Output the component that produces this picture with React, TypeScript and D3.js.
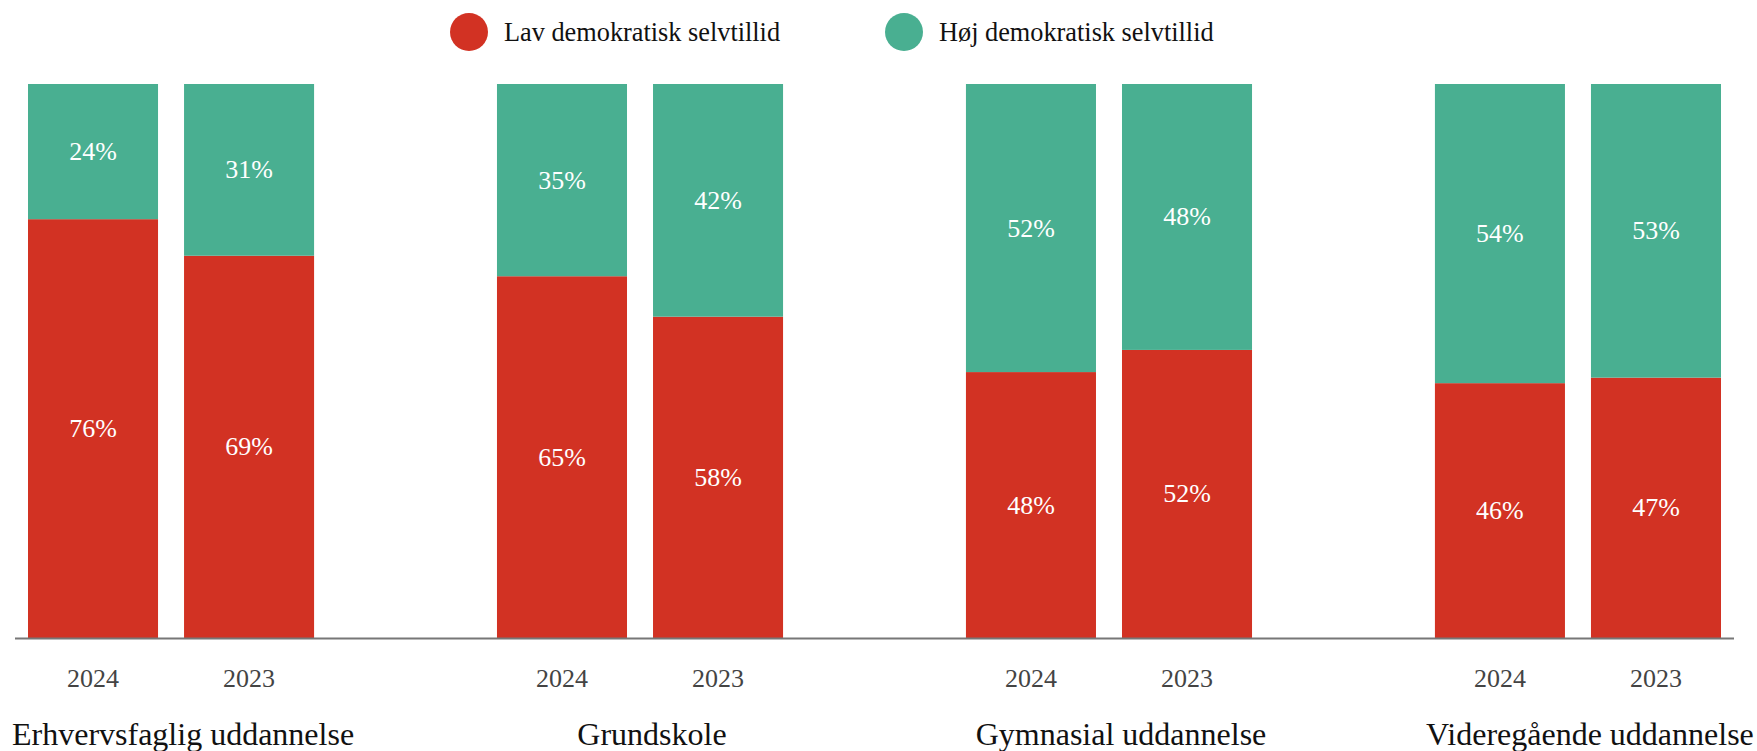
import React from "react";
import * as d3 from "d3";

const categories = ["Erhvervsfaglig uddannelse", "Grundskole", "Gymnasial uddannelse", "Videregående uddannelse"];
const years = ["2024", "2023"];
const seriesNames = ["Lav demokratisk selvtillid", "Høj demokratisk selvtillid"];
// values per category, per year [2024, 2023]
const lowValues = [
  [75.6, 69],
  [65.3, 58],
  [48, 52],
  [46, 47],
];
const highValues = [
  [24.4, 31],
  [34.7, 42],
  [52, 48],
  [54, 53],
];
const colors = ["#D23223", "#49AF91"];

const W = 1757;
const H = 751;
const FONT = "'Liberation Serif', 'DejaVu Serif', serif";

export default function App() {
  const x0 = d3.scaleBand<string>().domain(categories).range([28, 1721]).paddingInner(0.39).paddingOuter(0);
  const x1 = d3.scaleBand<string>().domain(years).range([0, x0.bandwidth()]).paddingInner(0.1667).paddingOuter(0);
  const y = d3.scaleLinear().domain([0, 100]).range([638, 84]);

  return (
    <svg width={W} height={H} style={{ position: "absolute", left: 0, top: 0 }} fontFamily={FONT}>
      {/* legend */}
      {seriesNames.map((s, i) => {
        const cx = [469, 904][i];
        return (
          <g key={s}>
            <circle cx={cx} cy={32} r={19} fill={colors[i]} />
            <text x={cx + 35} y={40.5} fontSize={26.3} fill="#111">{s}</text>
          </g>
        );
      })}
      {categories.map((c, ci) => {
        const gx = x0(c)!;
        return (
          <g key={c}>
            {years.map((yr, yi) => {
              const bx = gx + x1(yr)!;
              const lo = lowValues[ci][yi];
              const hi = highValues[ci][yi];
              const yLoTop = y(lo);
              const yHiTop = y(lo + hi);
              const bw = x1.bandwidth();
              return (
                <g key={yr}>
                  <rect x={bx} y={yLoTop} width={bw} height={y(0) - yLoTop} fill={colors[0]} />
                  <rect x={bx} y={yHiTop} width={bw} height={yLoTop - yHiTop} fill={colors[1]} />
                  <text x={bx + bw / 2} y={(y(0) + yLoTop) / 2} fontSize={26} fill="#fff" textAnchor="middle" dominantBaseline="central">{Math.round(lo)}%</text>
                  <text x={bx + bw / 2} y={(yLoTop + yHiTop) / 2} fontSize={26} fill="#fff" textAnchor="middle" dominantBaseline="central">{Math.round(hi)}%</text>
                  <text x={bx + bw / 2} y={687} fontSize={26} fill="#444" textAnchor="middle">{yr}</text>
                </g>
              );
            })}
            <text x={gx + x0.bandwidth() / 2 + 12} y={745} fontSize={32} fill="#111" textAnchor="middle">{c}</text>
          </g>
        );
      })}
      <line x1={15} x2={1734} y1={638.5} y2={638.5} stroke="#777" strokeWidth={2} />
    </svg>
  );
}
